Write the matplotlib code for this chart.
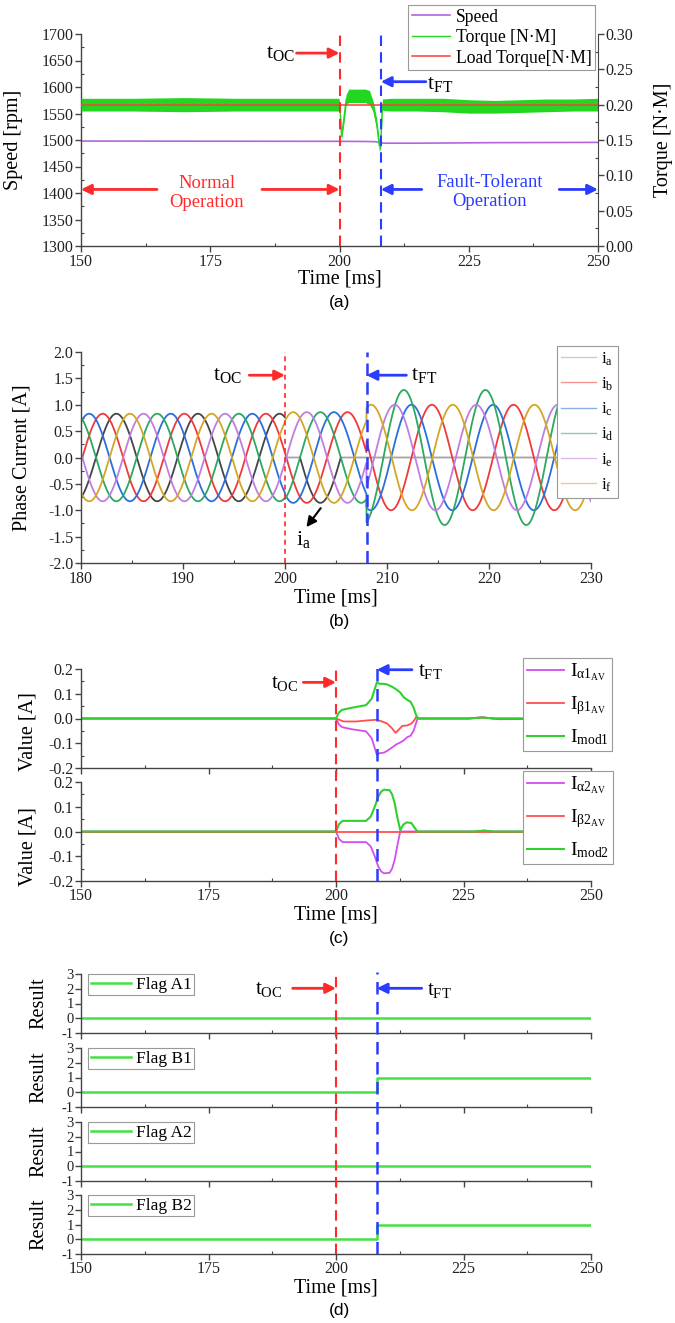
import numpy as np
import matplotlib
matplotlib.use('Agg')
import matplotlib.pyplot as plt
from matplotlib.ticker import MultipleLocator, FormatStrFormatter

plt.rcParams['font.family'] = ['Liberation Serif', 'DejaVu Serif']
plt.rcParams['mathtext.fontset'] = 'custom'
plt.rcParams['mathtext.rm'] = 'Liberation Serif'
plt.rcParams['mathtext.it'] = 'Liberation Serif:italic'
plt.rcParams['mathtext.bf'] = 'Liberation Serif:bold'
plt.rcParams['axes.unicode_minus'] = False

# ---------------- data ----------------
# (a) speed [rpm] and torque [N.M]
speed_t = [150, 200, 205, 207, 208.5, 215, 230, 250]
speed_v = [1498, 1497.5, 1497.2, 1496.8, 1494, 1494, 1495, 1495.5]

torque_t = [150, 160, 170, 180, 190, 199.9, 200.1, 200.4, 200.8, 201.3, 201.8, 203, 205,
            205.8, 206.5, 207.2, 207.7, 208.0, 208.3, 210, 215, 220, 225, 230, 235, 240, 245, 250]
torque_hi = [0.209, 0.209, 0.210, 0.209, 0.209, 0.209, 0.200, 0.160, 0.185, 0.215, 0.222, 0.222, 0.222,
             0.220, 0.205, 0.180, 0.150, 0.160, 0.208, 0.209, 0.209, 0.209, 0.207, 0.206, 0.207, 0.208, 0.208, 0.209]
torque_lo = [0.191, 0.191, 0.190, 0.191, 0.191, 0.191, 0.190, 0.150, 0.170, 0.200, 0.203, 0.203, 0.203,
             0.200, 0.190, 0.165, 0.1335, 0.140, 0.192, 0.191, 0.191, 0.190, 0.188, 0.188, 0.189, 0.190, 0.191, 0.191]
load_t = [150, 250]
load_v = [0.20, 0.20]

# (b) phase currents: peak times, amplitudes, period
phase_labels = [r'$\mathrm{i}_{\mathrm{a}}$', r'$\mathrm{i}_{\mathrm{b}}$', r'$\mathrm{i}_{\mathrm{c}}$',
                r'$\mathrm{i}_{\mathrm{d}}$', r'$\mathrm{i}_{\mathrm{e}}$', r'$\mathrm{i}_{\mathrm{f}}$']
phase_colors = ['#454545', '#f03a3a', '#2a6fdb', '#2ca860', '#c07ee0', '#d4a626']
period_ms = 8.0
pre_peak = [3.47, 2.13, 0.80, 7.47, 6.13, 4.80]     # ms after 180 ms
pre_amp = [0.83, 0.83, 0.83, 0.83, 0.83, 0.83]
fault_amp = [0.86, 0.86, 0.86, 0.86, 0.86, 0.86]   # 200-208 ms
post_peak = [0.0, 6.40, 4.40, 3.65, 2.75, 0.45]    # ms after 208 ms
post_amp = [0.0, 1.00, 1.00, 1.28, 1.00, 1.00]

# (c) average currents
c1_t = [150, 200, 200.6, 201.2, 203, 205.9, 207, 208.0, 208.6, 209.4, 210.1, 211, 211.8, 212.6,
        213.3, 214.0, 214.6, 215.2, 215.6, 216.0, 226, 228.5, 231, 250]
alpha1 = [0, 0, -0.025, -0.035, -0.043, -0.052, -0.08, -0.146, -0.14, -0.138, -0.13, -0.117, -0.105, -0.097,
          -0.088, -0.075, -0.07, -0.05, -0.025, 0, 0, 0.005, 0, 0]
mod1 = [0, 0, 0.025, 0.035, 0.043, 0.054, 0.08, 0.145, 0.14, 0.14, 0.137, 0.128, 0.118, 0.105,
        0.085, 0.075, 0.068, 0.045, 0.02, 0, 0, 0.004, 0, 0]
b1_t = [150, 200, 201.5, 204, 206, 208, 209, 210, 211, 211.7, 212.3, 213, 214, 214.8, 215.3, 215.8,
        216.2, 226, 229, 232, 250]
beta1 = [0, 0, -0.012, -0.012, -0.008, -0.005, -0.012, -0.02, -0.04, -0.058, -0.045, -0.03, -0.028,
         -0.02, -0.008, 0.008, 0, 0, 0.004, -0.003, 0]

c2_t = [150, 200, 200.6, 201.3, 205.9, 206.8, 207.6, 208.3, 208.9, 209.4, 210.5, 211.0, 211.5, 212.0,
        212.6, 213.2, 213.9, 214.8, 215.4, 216.0, 227, 229, 231, 250]
alpha2 = [0, 0, -0.03, -0.043, -0.043, -0.06, -0.1, -0.142, -0.162, -0.169, -0.167, -0.15, -0.115, -0.06,
          0, 0, 0, 0, 0, 0, 0, 0.004, 0, 0]
mod2 = [0, 0, 0.03, 0.043, 0.043, 0.06, 0.1, 0.142, 0.162, 0.169, 0.167, 0.15, 0.115, 0.06,
        0.005, 0.028, 0.037, 0.034, 0.015, 0, 0, 0.003, 0, 0]
b2_t = [150, 250]
beta2 = [0, 0]

# (d) fault flags
flag_t = [150, 208, 250]
flag_names = ['Flag A1', 'Flag B1', 'Flag A2', 'Flag B2']
flag_vals = [[0, 0, 0], [0, 1, 1], [0, 0, 0], [0, 1, 1]]

t_oc, t_ft = 200, 208

# ---------------- figure ----------------
W, H = 675, 1323
fig = plt.figure(figsize=(W / 100, H / 100), dpi=100)


def box(x0, y0, x1, y1):
    return [x0 / W, 1 - y1 / H, (x1 - x0) / W, (y1 - y0) / H]


def fx(x):
    return x / W


def fy(y):
    return 1 - y / H


TICK_FS = 11.5


def style(ax, fs=TICK_FS):
    for s in ['top', 'right']:
        ax.spines[s].set_visible(False)
    for s in ['left', 'bottom']:
        ax.spines[s].set_color('#444444')
        ax.spines[s].set_linewidth(1.0)
    ax.tick_params(which='major', direction='out', length=4, width=1, colors='#444444',
                   labelsize=fs, labelcolor='#222222', pad=1.5)
    ax.tick_params(which='minor', direction='in', length=2.5, width=0.8, colors='#444444')


def arrow(ax, tail, head, color, lw=2.0):
    ax.annotate('', xy=head, xytext=tail,
                arrowprops=dict(arrowstyle='-|>', color=color, lw=lw, mutation_scale=15,
                                shrinkA=0, shrinkB=0))


RED = '#ff2a2a'
BLUE = '#2a3cff'
LABEL_FS = 14.5
T_FS = 16

# ---------- (a) ----------
axA = fig.add_axes(box(81, 34, 598, 246))
style(axA)
ln_speed, = axA.plot(speed_t, speed_v, color='#b565dc', lw=1.2, label='Speed')
axA.set_xlim(150, 250)
axA.set_ylim(1300, 1700)
axA.xaxis.set_major_locator(MultipleLocator(25))
axA.xaxis.set_minor_locator(MultipleLocator(12.5))
axA.yaxis.set_major_locator(MultipleLocator(50))
axA.yaxis.set_minor_locator(MultipleLocator(25))
axA.set_ylabel('Speed [rpm]', fontsize=LABEL_FS)
axA.yaxis.set_label_coords((23 - 81) / 517, 0.5)
axA.set_xlabel('Time [ms]', fontsize=LABEL_FS, va='center')
axA.xaxis.set_label_coords(0.5, -(279 - 246) / 212)

axT = axA.twinx()
axT.spines['top'].set_visible(False)
axT.spines['right'].set_color('#444444')
axT.spines['left'].set_visible(False)
axT.spines['bottom'].set_visible(False)
axT.set_ylim(0, 0.30)
axT.yaxis.set_major_locator(MultipleLocator(0.05))
axT.yaxis.set_minor_locator(MultipleLocator(0.025))
axT.yaxis.set_major_formatter(FormatStrFormatter('%.2f'))
axT.tick_params(which='major', direction='out', length=4, width=1, colors='#444444',
                labelsize=TICK_FS, labelcolor='#222222', pad=1.5)
axT.tick_params(which='minor', direction='in', length=2.5, width=0.8, colors='#444444')
torque_mid = [(a + b) / 2 for a, b in zip(torque_hi, torque_lo)]
axT.fill_between(torque_t, torque_lo, torque_hi, color='#22d622', lw=0)
ln_torque, = axT.plot(torque_t, torque_mid, color='#22d622', lw=1.0, label='Torque [N·M]')
ln_load, = axT.plot(load_t, load_v, color='#ff3b3b', lw=1.1, label='Load Torque[N·M]')
axT.set_ylabel('Torque [N·M]', fontsize=LABEL_FS)
axT.yaxis.set_label_coords((654 - 81) / 517, 0.5)
axT.axvline(t_oc, color=RED, ls=(0, (5, 3)), lw=1.5)
axT.axvline(t_ft, color=BLUE, ls=(0, (5, 3)), lw=1.5)

legA = axT.legend([ln_speed, ln_torque, ln_load], ['Speed', 'Torque [N·M]', 'Load Torque[N·M]'],
                  loc='upper right', bbox_to_anchor=(fx(595), fy(5)), bbox_transform=fig.transFigure,
                  fontsize=12.7, frameon=True, fancybox=False, edgecolor='#999999', framealpha=1,
                  handlelength=2.2, handletextpad=0.3, labelspacing=0.2, borderpad=0.2, borderaxespad=0)
legA.get_frame().set_linewidth(0.8)

axA.text(188.6, 1664, r'$\mathrm{t}_{\mathrm{OC}}$', fontsize=T_FS, ha='center', va='center')
arrow(axA, (191.7, 1664), (t_oc, 1664), RED)
arrow(axA, (216.7, 1610), (t_ft, 1610), BLUE)
axA.text(219.4, 1604, r'$\mathrm{t}_{\mathrm{FT}}$', fontsize=T_FS, ha='center', va='center')
axA.text(174.3, 1400, 'Normal\nOperation', color=RED, fontsize=13.4, ha='center', va='center')
arrow(axA, (164.7, 1406.7), (150, 1406.7), RED)
arrow(axA, (185, 1406.7), (t_oc, 1406.7), RED)
axA.text(229.1, 1402, 'Fault-Tolerant\nOperation', color=BLUE, fontsize=13.4, ha='center', va='center')
arrow(axA, (215.9, 1406.7), (t_ft, 1406.7), BLUE)
arrow(axA, (242.5, 1406.7), (250, 1406.7), BLUE)

fig.text(fx(340), fy(302), '(a)', family='Liberation Sans', fontsize=12.5, ha='center', va='center')

# ---------- (b) ----------
axB = fig.add_axes(box(81, 352, 591, 563))
style(axB)
tb = np.arange(180, 230.0001, 0.02)
for k in range(6):
    pre = pre_amp[k] * np.cos(2 * np.pi * (tb - 180 - pre_peak[k]) / period_ms)
    flt = fault_amp[k] * np.cos(2 * np.pi * (tb - 180 - pre_peak[k]) / period_ms)
    post = post_amp[k] * np.cos(2 * np.pi * (tb - 208 - post_peak[k]) / period_ms)
    if k == 0:
        flt = np.minimum(flt, 0)   # open-circuited phase a
    y = np.where(tb < t_oc, pre, np.where(tb < t_ft, flt, post))
    if k == 0:
        dead = (tb >= t_oc) & (y == 0)
        axB.plot(tb, np.where(dead, y, np.nan), color='#a5a5a5', lw=1.3, zorder=1.9)
        y = np.where(dead, np.nan, y)
    axB.plot(tb, y, color=phase_colors[k], lw=1.3, label=phase_labels[k])
axB.set_xlim(180, 230)
axB.set_ylim(-2.0, 2.0)
axB.xaxis.set_major_locator(MultipleLocator(10))
axB.xaxis.set_minor_locator(MultipleLocator(5))
axB.yaxis.set_major_locator(MultipleLocator(0.5))
axB.yaxis.set_minor_locator(MultipleLocator(0.25))
axB.yaxis.set_major_formatter(FormatStrFormatter('%.1f'))
axB.set_ylabel('Phase Current [A]', fontsize=LABEL_FS)
axB.yaxis.set_label_coords((32 - 81) / 510, 0.5)
axB.set_xlabel('Time [ms]', fontsize=LABEL_FS, va='center')
axB.xaxis.set_label_coords(0.5, -(598 - 563) / 211)
axB.axvline(t_oc, color=RED, ls=(0, (3, 2.5)), lw=1.2)
axB.axvline(t_ft, color=BLUE, ls=(0, (5, 2.5)), lw=1.8)
legB = axB.legend(loc='upper left', bbox_to_anchor=(fx(557), fy(346)), bbox_transform=fig.transFigure,
                  fontsize=12.5, frameon=True, fancybox=False, edgecolor='#999999', framealpha=1,
                  handlelength=2.0, handletextpad=0.3, labelspacing=0.45, borderpad=0.25, borderaxespad=0)
legB.get_frame().set_linewidth(0.8)
for h in legB.get_lines():
    h.set_alpha(0.55)
    h.set_linewidth(1.0)
legB.get_lines()[0].set_color('#a5a5a5')
axB.text(194.4, 1.56, r'$\mathrm{t}_{\mathrm{OC}}$', fontsize=T_FS, ha='center', va='center')
arrow(axB, (196.5, 1.56), (t_oc, 1.56), RED)
arrow(axB, (211.9, 1.56), (t_ft, 1.56), BLUE)
axB.text(213.6, 1.56, r'$\mathrm{t}_{\mathrm{FT}}$', fontsize=T_FS, ha='center', va='center')
arrow(axB, (203.5, -0.96), (202.1, -1.32), 'black', lw=1.5)
axB.text(201.8, -1.56, r'$\mathrm{i}_{\mathrm{a}}$', fontsize=T_FS, ha='center', va='center')

fig.text(fx(339), fy(621), '(b)', family='Liberation Sans', fontsize=12.5, ha='center', va='center')

# ---------- (c) ----------
axC1 = fig.add_axes(box(81, 669, 591, 768))
axC2 = fig.add_axes(box(81, 782, 591, 881))
c_sets = [
    (axC1, c1_t, alpha1, b1_t, beta1, mod1, '1', 732),
    (axC2, c2_t, alpha2, b2_t, beta2, mod2, '2', 847),
]
for ax, tt, al, bt, be, md, n, lab_y in c_sets:
    style(ax)
    ax.plot(tt, al, color='#d24ef0', lw=1.3,
            label=r'$\mathrm{I}_{\mathrm{\alpha ' + n + r'}_{\mathrm{AV}}}$')
    ax.plot(bt, be, color='#ff4f4f', lw=1.3,
            label=r'$\mathrm{I}_{\mathrm{\beta ' + n + r'}_{\mathrm{AV}}}$')
    ax.plot(tt, md, color='#2fd02f', lw=1.5, label=r'$\mathrm{I}_{\mathrm{mod' + n + '}}$')
    ax.set_xlim(150, 250)
    ax.set_ylim(-0.2, 0.2)
    ax.xaxis.set_major_locator(MultipleLocator(25))
    ax.xaxis.set_minor_locator(MultipleLocator(12.5))
    ax.yaxis.set_major_locator(MultipleLocator(0.1))
    ax.yaxis.set_minor_locator(MultipleLocator(0.05))
    ax.yaxis.set_major_formatter(FormatStrFormatter('%.1f'))
    ax.set_ylabel('Value [A]', fontsize=LABEL_FS)
    y0 = 669 if n == '1' else 782
    ax.yaxis.set_label_coords((38 - 81) / 510, (y0 + 99 - lab_y) / 99)
    leg = ax.legend(loc='upper left', bbox_to_anchor=(fx(523), fy(y0 - 11)), bbox_transform=fig.transFigure,
                    fontsize=14, frameon=True, fancybox=False, edgecolor='#999999', framealpha=1,
                    handlelength=1.9, handletextpad=0.3, labelspacing=0.55, borderpad=0.2, borderaxespad=0)
    leg.get_frame().set_linewidth(0.8)
axC1.tick_params(labelbottom=False)
axC2.tick_params(axis='x', pad=1)
axC2.set_xlabel('Time [ms]', fontsize=LABEL_FS, va='center')
axC2.xaxis.set_label_coords(0.5, -(915 - 881) / 99)

ovC = fig.add_axes(box(81, 665, 591, 881))
ovC.set_xlim(150, 250)
ovC.set_ylim(0, 1)
ovC.axis('off')
ovC.axvline(t_oc, color=RED, ls=(0, (5, 3)), lw=1.5)
ovC.axvline(t_ft, color=BLUE, ls=(0, (5, 3)), lw=1.8)
axC1.text(189.9, 0.143, r'$\mathrm{t}_{\mathrm{OC}}$', fontsize=15, ha='center', va='center')
arrow(axC1, (193.6, 0.146), (t_oc, 0.146), RED)
arrow(axC1, (214.9, 0.197), (t_ft, 0.197), BLUE)
axC1.text(218.6, 0.19, r'$\mathrm{t}_{\mathrm{FT}}$', fontsize=15, ha='center', va='center')

fig.text(fx(339), fy(939), '(c)', family='Liberation Sans', fontsize=12.5, ha='center', va='center')

# ---------- (d) ----------
d_rows = [(974, 1033), (1048, 1107), (1122, 1181), (1195, 1254)]
d_axes = []
for (y0, y1), name, vals in zip(d_rows, flag_names, flag_vals):
    ax = fig.add_axes(box(81, y0, 591, y1))
    style(ax, fs=10.5)
    ax.step(flag_t, vals, where='post', color='#45e045', lw=1.8, label=name)
    ax.set_xlim(150, 250)
    ax.set_ylim(-1, 3)
    ax.xaxis.set_major_locator(MultipleLocator(25))
    ax.xaxis.set_minor_locator(MultipleLocator(12.5))
    ax.yaxis.set_major_locator(MultipleLocator(1))
    ax.set_ylabel('Result', fontsize=LABEL_FS)
    ax.yaxis.set_label_coords((48 - 81) / 510, 0.5)
    ax.tick_params(axis='y', pad=1)
    ax.tick_params(axis='x', labelsize=TICK_FS, pad=1)
    leg = ax.legend(loc='upper left', bbox_to_anchor=(fx(88), fy(y0)), bbox_transform=fig.transFigure,
                    fontsize=12.5, frameon=True, fancybox=False, edgecolor='#999999', framealpha=1,
                    handlelength=2.3, handletextpad=0.3, borderpad=0.15, borderaxespad=0)
    leg.get_frame().set_linewidth(0.8)
    d_axes.append(ax)
for ax in d_axes[:-1]:
    ax.tick_params(labelbottom=False)
d_axes[-1].set_xlabel('Time [ms]', fontsize=LABEL_FS, va='center')
d_axes[-1].xaxis.set_label_coords(0.5, -(1288 - 1254) / 59)

ovD = fig.add_axes(box(81, 972, 591, 1254))
ovD.set_xlim(150, 250)
ovD.set_ylim(0, 1)
ovD.axis('off')
ovD.axvline(t_oc, color=RED, ls=(0, (5, 3)), lw=1.5)
ovD.axvline(t_ft, color=BLUE, ls=(0, (5, 3)), lw=1.8)
axD1 = d_axes[0]
axD1.text(186.9, 1.95, r'$\mathrm{t}_{\mathrm{OC}}$', fontsize=15, ha='center', va='center')
arrow(axD1, (191.5, 2.03), (t_oc, 2.03), RED)
arrow(axD1, (216.8, 2.03), (t_ft, 2.03), BLUE)
axD1.text(220.2, 1.85, r'$\mathrm{t}_{\mathrm{FT}}$', fontsize=15, ha='center', va='center')

fig.text(fx(339), fy(1311), '(d)', family='Liberation Sans', fontsize=12.5, ha='center', va='center')

fig.savefig('out.png', dpi=100, facecolor='white')
